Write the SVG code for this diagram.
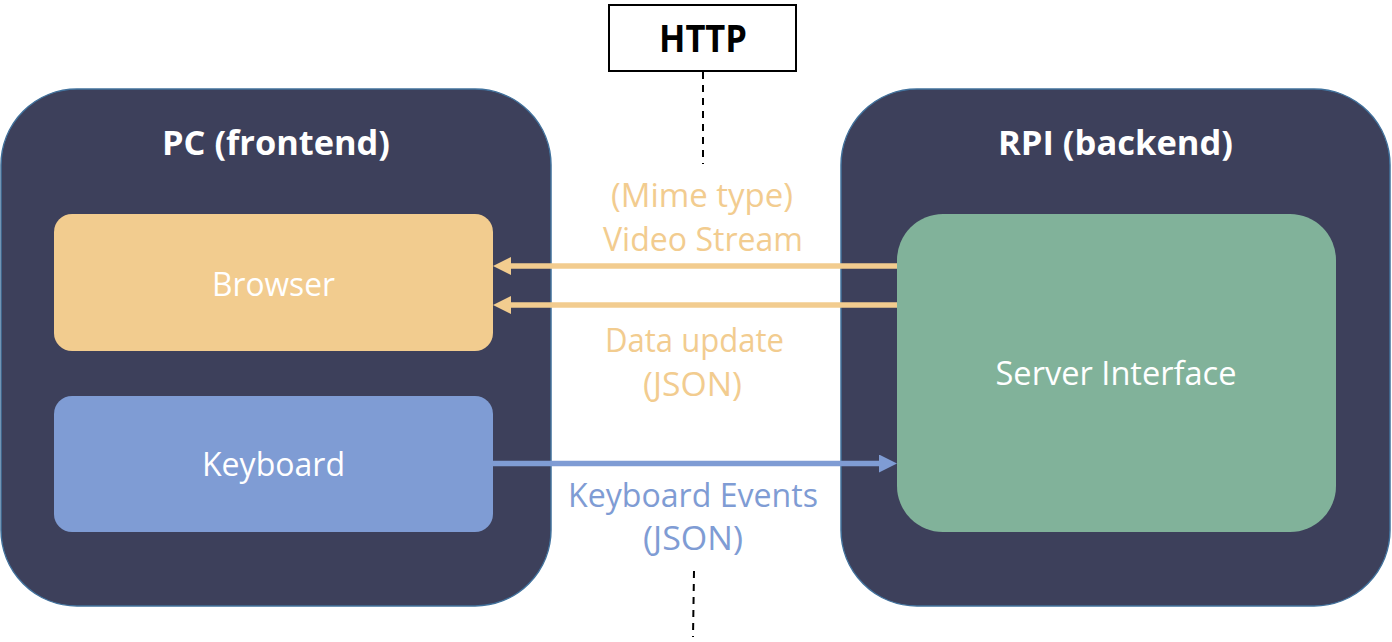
<svg xmlns="http://www.w3.org/2000/svg" width="1392" height="642" viewBox="0 0 1392 642">
  <defs>
    <style>
      .group { fill: #3D405B; stroke: #41719C; stroke-width: 1.5; }
      .title { font-family: "Open Sans", "Noto Sans", sans-serif; font-weight: bold; font-size: 34px; fill: #FFFFFF; text-anchor: middle; }
      .label { font-family: "Open Sans", "Noto Sans", sans-serif; font-size: 32px; fill: #FFFFFF; text-anchor: middle; }
      .elabel { font-family: "Open Sans", "Noto Sans", sans-serif; font-size: 32px; text-anchor: middle; }
      .orange { fill: #F2CC8F; }
      .blue { fill: #7F9CD4; }
      .dash { stroke: #000000; stroke-width: 2; stroke-dasharray: 7 6; fill: none; }
    </style>
    <marker id="arrowOrange" markerUnits="userSpaceOnUse" viewBox="0 0 18 18" refX="8" refY="9" markerWidth="18" markerHeight="18" orient="auto">
      <path d="M0,0 L18,9 L0,18 Z" fill="#F2CC8F"/>
    </marker>
    <marker id="arrowBlue" markerUnits="userSpaceOnUse" viewBox="0 0 18 18" refX="8" refY="9" markerWidth="18" markerHeight="18" orient="auto">
      <path d="M0,0 L18,9 L0,18 Z" fill="#7F9CD4"/>
    </marker>
  </defs>

  <rect width="1392" height="642" fill="#FFFFFF"/>

  <g id="http">
    <rect x="609" y="5" width="187" height="66" fill="#FFFFFF" stroke="#000000" stroke-width="2"/>
    <text x="703" y="52" font-family="'Open Sans', 'Noto Sans', sans-serif" font-weight="bold" font-size="37" fill="#000000" text-anchor="middle" textLength="88" lengthAdjust="spacingAndGlyphs">HTTP</text>
  </g>

  <g id="pc">
    <rect class="group" x="1" y="89" width="550" height="517" rx="76" ry="76"/>
    <text class="title" x="276" y="155" textLength="228" lengthAdjust="spacingAndGlyphs">PC (frontend)</text>
  </g>

  <g id="rpi">
    <rect class="group" x="841" y="89" width="549" height="517" rx="76" ry="76"/>
    <text class="title" x="1115.5" y="155" textLength="235" lengthAdjust="spacingAndGlyphs">RPI (backend)</text>
  </g>

  <g id="browser">
    <rect x="54" y="214" width="439" height="137" rx="18" ry="18" fill="#F2CC8F"/>
    <text class="label" x="273.5" y="296" textLength="123" lengthAdjust="spacingAndGlyphs">Browser</text>
  </g>

  <g id="keyboard">
    <rect x="54" y="396" width="439" height="136" rx="18" ry="18" fill="#7F9CD4"/>
    <text class="label" x="273.5" y="476" textLength="143" lengthAdjust="spacingAndGlyphs">Keyboard</text>
  </g>

  <g id="server">
    <rect x="897" y="214" width="439" height="318" rx="46" ry="46" fill="#81B29A"/>
    <text class="label" x="1116" y="385" textLength="241" lengthAdjust="spacingAndGlyphs">Server Interface</text>
  </g>

  <g id="connectors">
    <line class="dash" x1="703" y1="72" x2="703" y2="164"/>
    <line class="dash" x1="694" y1="571" x2="693" y2="637"/>
    <line x1="897" y1="266" x2="503" y2="266" stroke="#F2CC8F" stroke-width="5.5" marker-end="url(#arrowOrange)"/>
    <line x1="897" y1="305" x2="503" y2="305" stroke="#F2CC8F" stroke-width="5.5" marker-end="url(#arrowOrange)"/>
    <line x1="493" y1="463.5" x2="887" y2="463.5" stroke="#7F9CD4" stroke-width="5.5" marker-end="url(#arrowBlue)"/>
    <text class="elabel orange" x="702" y="207" textLength="182" lengthAdjust="spacingAndGlyphs">(Mime type)</text>
    <text class="elabel orange" x="703" y="251" textLength="200" lengthAdjust="spacingAndGlyphs">Video Stream</text>
    <text class="elabel orange" x="694.5" y="352" textLength="179" lengthAdjust="spacingAndGlyphs">Data update</text>
    <text class="elabel orange" x="692.5" y="396" textLength="99" lengthAdjust="spacingAndGlyphs">(JSON)</text>
    <text class="elabel blue" x="693" y="507" textLength="250" lengthAdjust="spacingAndGlyphs">Keyboard Events</text>
    <text class="elabel blue" x="693" y="550" textLength="100" lengthAdjust="spacingAndGlyphs">(JSON)</text>
  </g>
</svg>
